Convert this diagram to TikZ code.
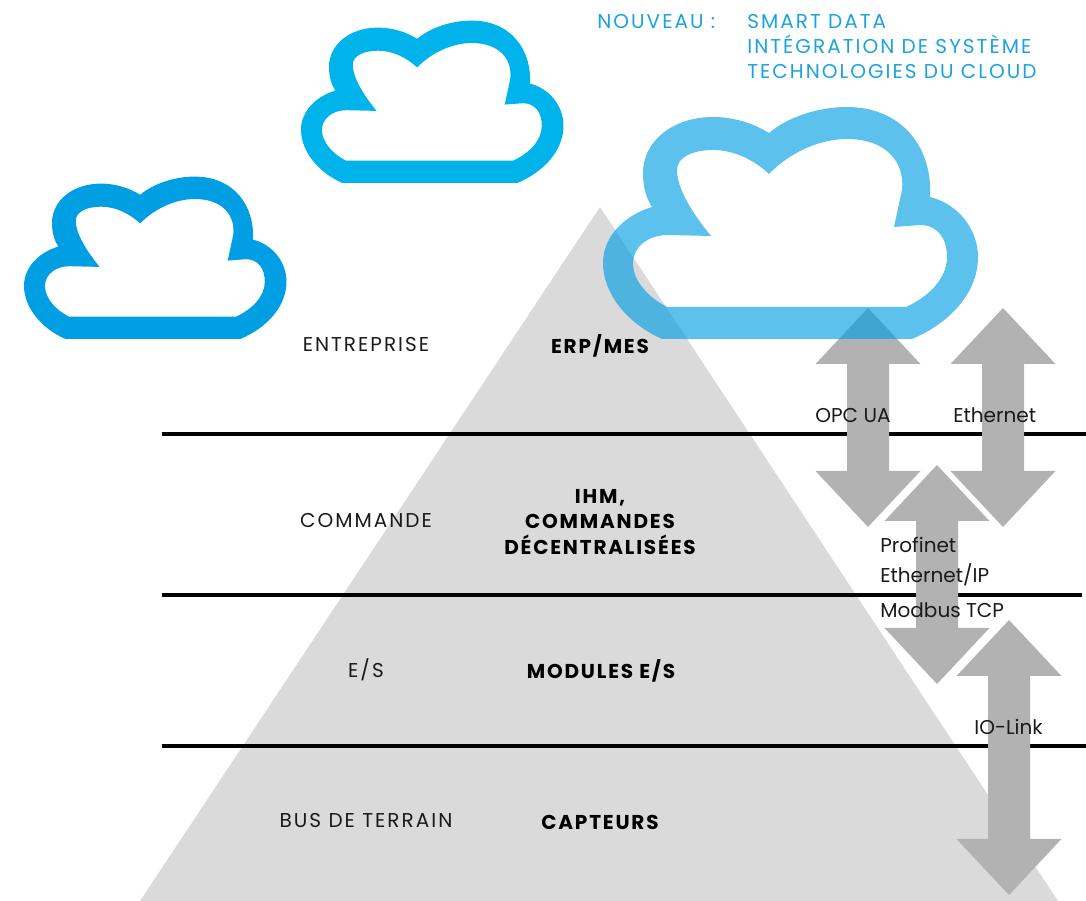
\documentclass[tikz,border=0pt]{standalone}
\usepackage{fontspec}
\setmainfont{Poppins}
\newfontfamily\capsfont{Poppins}[LetterSpace=10]
\newfontfamily\capsboldfont{Poppins}[LetterSpace=9]
\usepackage{tikz}
\usetikzlibrary{calc,positioning}
\definecolor{pyramidgrey}{HTML}{DADADA}
\definecolor{arrowgrey}{HTML}{B2B2B2}
\definecolor{clouddark}{HTML}{009FE3}
\definecolor{cloudmid}{HTML}{00B4EB}
\definecolor{newblue}{HTML}{1AA3E0}
\definecolor{labelblack}{HTML}{1A1A1A}
% double arrow between (#1-top) and (#1-bot)
\newcommand{\biarrow}[1]{%
  \fill[big-arrow] (#1-top) -- ++(52.5,56) -- ++(-31.5,0)
    -- ($(#1-bot)+(21,-56)$) -- ++(31.5,0) -- (#1-bot)
    -- ++(-52.5,-56) -- ++(31.5,0) -- ($(#1-top)+(-21,56)$)
    -- ++(-31.5,0) -- cycle;}
\tikzset{
  every picture/.style = {
    x = 0.02cm,
    y = -0.02cm,
    font = \fontsize{11.4}{14.5}\selectfont,
  }
  ,
  cloudicon/.pic = {
    \fill[even odd rule] (59,0) -- (309,0)
      .. controls (345,-15) and (375,-45) .. (375,-82)
      .. controls (375,-110) and (355,-135) .. (327,-142)
      .. controls (330,-190) and (300,-232) .. (244,-232)
      .. controls (215,-232) and (185,-222) .. (166,-206)
      .. controls (150,-216) and (130,-222) .. (110,-222)
      .. controls (70,-222) and (40,-198) .. (40,-166)
      .. controls (40,-150) and (44,-140) .. (49,-132)
      .. controls (25,-125) and (0,-105) .. (0,-76)
      .. controls (0,-45) and (25,-15) .. (59,0) -- cycle
      (64,-32) -- (303,-32)
      .. controls (325,-42) and (344,-60) .. (344,-82)
      .. controls (344,-100) and (335,-114) .. (317,-114)
      -- (291,-112) -- (299,-149)
      .. controls (302,-175) and (285,-200) .. (244,-200)
      .. controls (215,-200) and (185,-185) .. (166,-165)
      .. controls (150,-180) and (130,-189) .. (110,-189)
      .. controls (90,-189) and (74,-182) .. (74,-169)
      .. controls (74,-150) and (90,-125) .. (108,-103)
      -- (65,-104)
      .. controls (45,-104) and (30,-92) .. (30,-76)
      .. controls (30,-58) and (45,-42) .. (64,-32) -- cycle;
  }
  ,
  tier-line/.style = {
    draw = black,
    line width = 1.9pt
  }
  ,
  big-arrow/.style = {
    fill = arrowgrey
  }
  , % labels of levels
  label-tier/.style = {
    anchor = base,
    font = \fontsize{11.4}{14.5}\capsfont,
    text = labelblack,
    inner sep = 0pt
  }
  , % labels of products
  label-product/.style = {
    font = \fontsize{11.4}{14.5}\capsboldfont\bfseries,
    text = black,
    inner sep = 0pt
  }
  , % labels of protocols
  label-proto/.style = {
    anchor = base west,
    text = labelblack,
    inner sep = 0pt
  }
  ,
  label-new/.style = {
    anchor = base west,
    font = \fontsize{11.4}{14.5}\capsfont,
    text = newblue,
    inner sep = 0pt
  }
}

\begin{document}
\begin{tikzpicture}
  \useasboundingbox (0,0) rectangle (1086,901);
  \pic[fill=clouddark, scale=0.7] at (24,339) {cloudicon};
  \pic[fill=cloudmid, scale=0.7] at (301,183) {cloudicon};
  \fill[pyramidgrey] (600,207) -- (1058,901) -- (140,901) -- cycle;
  \draw[tier-line] (162,434) -- (1086,434);
  \draw[tier-line] (162,595) -- (1082,595);
  \draw[tier-line] (162,746) -- (1086,746);
  % protocols
  \coordinate (opc-top) at (868,308);
  \coordinate (opc-bot) at (868,527);
  \coordinate (eth-top) at (1003,308);
  \coordinate (eth-bot) at (1003,527);
  \coordinate (pn-top) at (937,465);
  \coordinate (pn-bot) at (937,684);
  \coordinate (iol-top) at (1009,620);
  \coordinate (iol-bot) at (1009,895);
  \biarrow{opc}
  \biarrow{eth}
  \biarrow{pn}
  \biarrow{iol}
  \node[label-new] at (597,29) (new) {NOUVEAU :};
  \node[label-new] at (747,29) (smart) {SMART DATA};
  \node[label-new] at (747,54) (integ) {INTÉGRATION DE SYSTÈME};
  \node[label-new] at (747,79) (cloudtech) {TECHNOLOGIES DU CLOUD};
  \node[label-tier] at (366,352) (entreprise) {ENTREPRISE};
  \node[label-tier] at (366,528) (commande) {COMMANDE};
  \node[label-tier] at (366,678) (es) {E/S};
  \node[label-tier] at (366,828) (bus) {BUS DE TERRAIN};
  \node[label-product, anchor=base] at (600,354) (erp) {ERP/MES};
  \node[label-product, align=center] at (600,522) (ihm) {IHM,\\COMMANDES\\DÉCENTRALISÉES};
  \node[label-product, anchor=base] at (601,679) (modules) {MODULES E/S};
  \node[label-product, anchor=base] at (600,830) (capteurs) {CAPTEURS};
  \node[label-proto] at (815,423) (opcua) {OPC UA};
  \node[label-proto] at (953,423) (ethernet) {Ethernet};
  \node[label-proto] at (880,553) (profinet) {Profinet};
  \node[label-proto] at (880,583) (ethip) {Ethernet/IP};
  \node[label-proto] at (880,618) (modbus) {Modbus TCP};
  \node[label-proto] at (974,735) (iolink) {IO-Link};
  \pic[fill=clouddark, fill opacity=0.64] at (603,339) {cloudicon};
\end{tikzpicture}
\end{document}
